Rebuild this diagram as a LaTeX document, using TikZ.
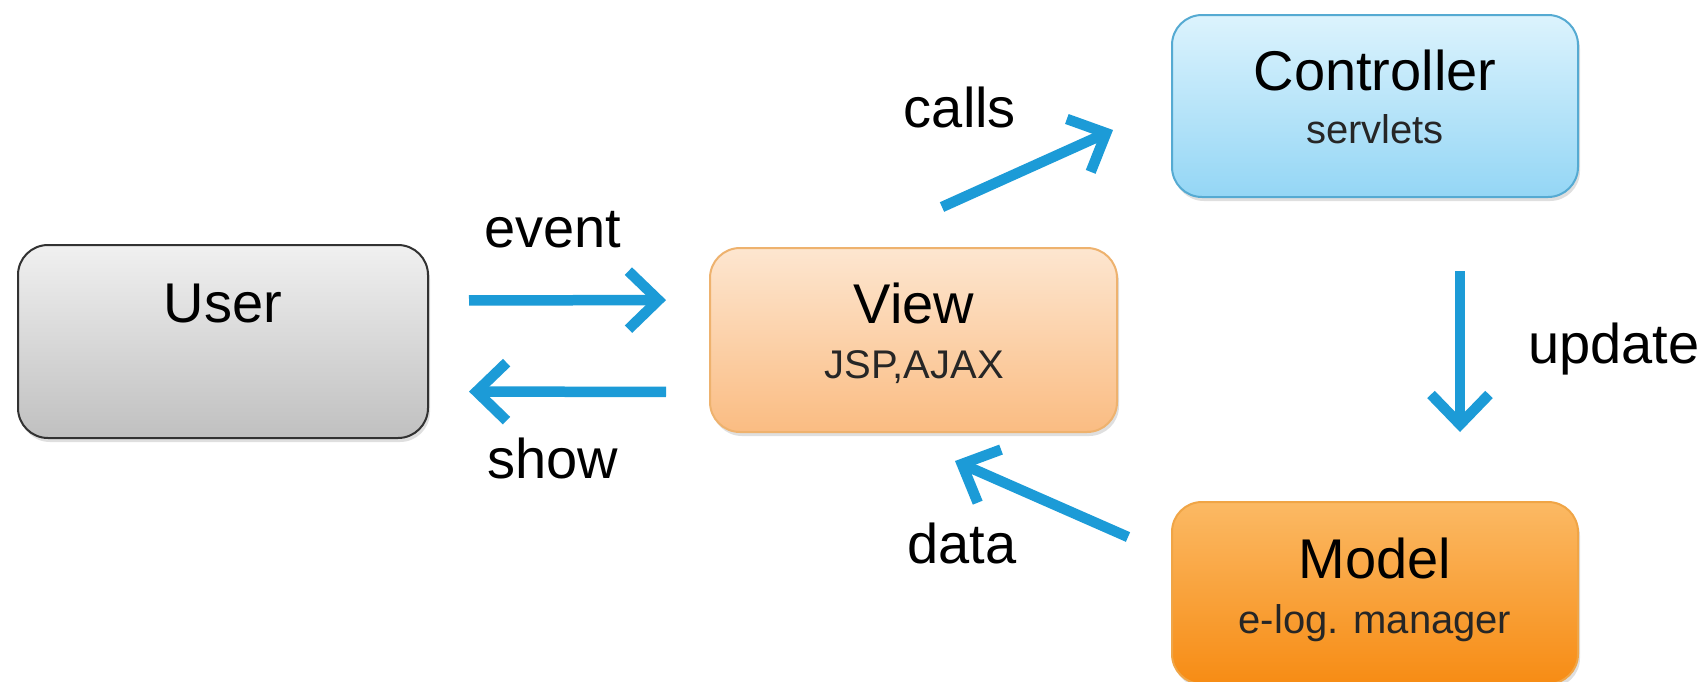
\documentclass[tikz,border=0pt]{standalone}
\usepackage{fontspec}
\setmainfont{Liberation Sans}
\usetikzlibrary{arrows.meta,shadows,calc}
\definecolor{flowblue}{RGB}{28,155,215}
\definecolor{usertop}{RGB}{240,240,240}
\definecolor{userbot}{RGB}{192,192,192}
\definecolor{userline}{RGB}{50,50,50}
\definecolor{viewtop}{RGB}{253,230,208}
\definecolor{viewbot}{RGB}{250,188,130}
\definecolor{viewline}{RGB}{238,178,110}
\definecolor{ctrltop}{RGB}{220,243,253}
\definecolor{ctrlbot}{RGB}{148,214,245}
\definecolor{ctrlline}{RGB}{85,170,210}
\definecolor{modeltop}{RGB}{251,185,100}
\definecolor{modelbot}{RGB}{247,140,20}
\definecolor{modelline}{RGB}{240,165,70}
\begin{document}
\begin{tikzpicture}[x=1pt,y=-1pt,
  boxbase/.style={rounded corners=30pt, line width=2pt, inner sep=0pt,
    drop shadow={shadow xshift=2pt, shadow yshift=-4pt, opacity=0.25}},
  userbox/.style={boxbase, draw=userline, top color=usertop, bottom color=userbot,
    minimum width=410pt, minimum height=193pt},
  viewbox/.style={boxbase, draw=viewline, top color=viewtop, bottom color=viewbot,
    minimum width=407pt, minimum height=184pt},
  ctrlbox/.style={boxbase, draw=ctrlline, top color=ctrltop, bottom color=ctrlbot,
    minimum width=406pt, minimum height=182pt},
  modelbox/.style={boxbase, draw=modelline, top color=modeltop, bottom color=modelbot,
    minimum width=406pt, minimum height=182pt},
  title/.style={font=\fontsize{56pt}{60pt}\selectfont, anchor=base, inner sep=0pt},
  sub/.style={font=\fontsize{40pt}{44pt}\selectfont, anchor=base, inner sep=0pt, text=black!85},
  lbl/.style={font=\fontsize{56pt}{60pt}\selectfont, anchor=base, inner sep=0pt},
  flow/.style={draw=flowblue, line width=10.5pt, -{Straight Barb[length=30pt,width=58pt]}}
]
\useasboundingbox (0,0) rectangle (1701,681);
\fill[white] (0,0) rectangle (1701,681);

\node[userbox] (User) at (223,341.5) {};
\node[viewbox] (View) at (913.5,340) {};
\node[ctrlbox] (Controller) at (1375,106) {};
\node[modelbox] (Model) at (1375,593) {};

\node[title] (usert) at (223,322) {User};
\node[title] (viewt) at (914,323) {View};
\node[sub] (views) at (914,378) {JSP,AJAX};
\node[title] (ctrlt) at (1375,90) {Controller};
\node[sub] (ctrls) at (1375,143) {servlets};
\node[title] (modelt) at (1375,578) {Model};
\node[sub] (models) at (1375,633) {e-log. manager};

\node[lbl] (event) at (553,247) {event};
\node[lbl] (show) at (553,478) {show};
\node[lbl] (calls) at (960,127) {calls};
\node[lbl] (data) at (962,563) {data};
\node[lbl, anchor=base west] (update) at (1528,363) {update};

\coordinate (callsS) at (942,207);
\coordinate (callsE) at (1113,130);
\coordinate (dataS) at (1128,537);
\coordinate (dataE) at (955,461);

\draw[flow, shorten <=40pt, shorten >=43pt] ([yshift=41pt]User.east) -- ([yshift=40pt]View.west);
\draw[flow, shorten <=43pt, shorten >=40pt] ([yshift=-52pt]View.west) -- ([yshift=-50pt]User.east);
\draw[flow] (callsS) -- (callsE);
\draw[flow] (dataS) -- (dataE);
\draw[flow, shorten <=73pt, shorten >=69pt] ([xshift=85pt]Controller.south) -- ([xshift=85pt]Model.north);
\end{tikzpicture}
\end{document}
